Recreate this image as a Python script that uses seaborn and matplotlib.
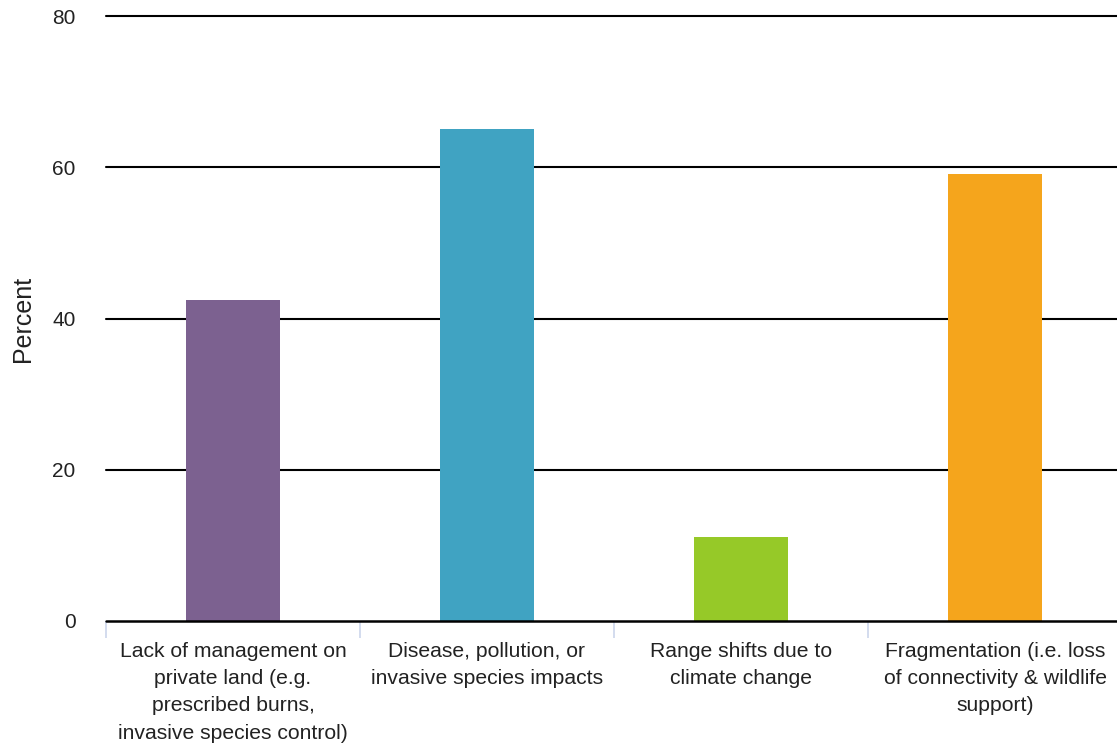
import matplotlib
matplotlib.use("Agg")
import matplotlib.pyplot as plt
import seaborn as sns
import pandas as pd

categories = [
    "Lack of management on\nprivate land (e.g.\nprescribed burns,\ninvasive species control)",
    "Disease, pollution, or\ninvasive species impacts",
    "Range shifts due to\nclimate change",
    "Fragmentation (i.e. loss\nof connectivity & wildlife\nsupport)",
]
percent = [42.4, 65.0, 11.1, 59.1]
colors = ["#7c6190", "#40a3c2", "#96c928", "#f5a51c"]
y_ticks = [0, 20, 40, 60, 80]

df = pd.DataFrame({"category": categories, "percent": percent})

sns.set_style("white")
plt.rcParams["font.family"] = ["Liberation Sans", "DejaVu Sans"]

fig = plt.figure(figsize=(11.17, 7.44), dpi=100)
# plot area runs slightly past the right edge, as in the reference
ax = fig.add_axes([106 / 1117, 1 - 621 / 744, (1122 - 106) / 1117, (621 - 16) / 744])

sns.barplot(data=df, x="category", y="percent", hue="category", palette=colors,
            width=0.37, legend=False, ax=ax, zorder=3, saturation=1, linewidth=0)

ax.set_ylim(0, 80)
ax.set_xlim(-0.5, len(categories) - 0.5)
ax.set_yticks(y_ticks)
ax.set_yticklabels([str(t) for t in y_ticks], fontsize=15, color="#222222")
for t in y_ticks[1:]:
    ax.axhline(t, color="black", linewidth=1.5, zorder=1, clip_on=False)
for s in ["top", "right", "left", "bottom"]:
    ax.spines[s].set_visible(False)
ax.axhline(0, color="black", linewidth=1.8, zorder=4, clip_on=False)

ax.set_xticks(range(len(categories)))
ax.set_xticklabels(categories, fontsize=15.2, color="#222222", linespacing=1.55, va="top")
ax.set_xticks([i - 0.5 for i in range(len(categories) + 1)], minor=True)
ax.tick_params(axis="x", which="minor", bottom=True, length=12, width=1.2, color="#ccd6eb")
ax.tick_params(axis="x", which="major", bottom=False, length=0, pad=15)
ax.tick_params(axis="y", length=0, pad=22)

ax.set_xlabel("")
ax.set_ylabel("Percent", fontsize=18, color="#222222", labelpad=12)

fig.savefig("out.png", dpi=100)
